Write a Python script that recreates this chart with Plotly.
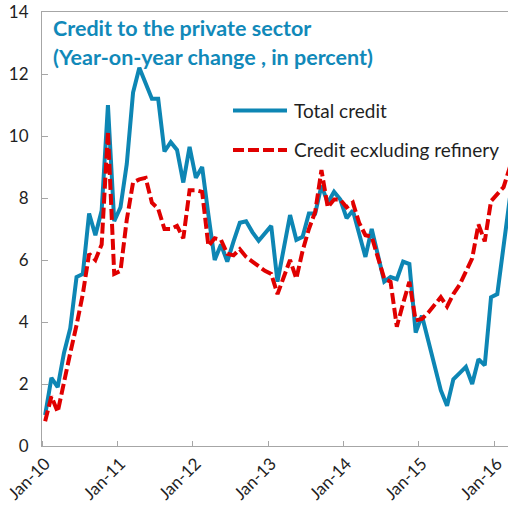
import pandas as pd
import plotly.graph_objects as go

# ---- data (monthly, Jan-2010 .. Mar-2016) ----
months = pd.date_range("2010-01-01", "2016-03-01", freq="MS").strftime("%b-%y").tolist()

total_credit = [
    1.0, 2.2, 1.9, 3.0, 3.8, 5.45, 5.55, 7.5, 6.8, 7.6, 11.0, 7.25,      # 2010
    7.7, 9.1, 11.4, 12.2, 11.7, 11.2, 11.2, 9.5, 9.8, 9.55, 8.5, 9.65,   # 2011
    8.65, 9.0, 7.45, 6.0, 6.5, 5.95, 6.6, 7.2, 7.25, 6.9, 6.62, 6.85,    # 2012
    7.1, 5.3, 6.4, 7.45, 6.65, 6.75, 7.5, 7.5, 8.4, 7.85, 8.2, 7.95,     # 2013
    7.35, 7.6, 6.85, 6.1, 7.0, 6.15, 5.3, 5.45, 5.38, 5.95, 5.87, 3.66,  # 2014
    4.2, 3.4, 2.6, 1.8, 1.3, 2.15, 2.35, 2.55, 2.0, 2.8, 2.6, 4.8,       # 2015
    4.9, 6.4, 8.0,                                                       # 2016
]

credit_ex_refinery = [
    0.8, 1.6, 1.1, 2.1, 3.0, 3.9, 4.9, 6.2, 6.0, 6.5, 10.15, 5.55,
    5.65, 7.3, 8.5, 8.6, 8.65, 7.85, 7.65, 7.0, 7.0, 7.1, 6.7, 8.25,
    8.25, 8.2, 6.45, 6.7, 6.65, 6.2, 6.15, 6.35, 6.1, 5.95, 5.78, 5.65,
    5.55, 4.9, 5.45, 6.0, 5.4, 6.3, 7.0, 7.55, 8.9, 7.7, 7.95, 7.95,
    7.7, 7.85, 7.2, 6.8, 6.75, 6.05, 5.4, 5.3, 3.85, 4.6, 5.3, 4.05,
    4.1, 4.3, 4.55, 4.8, 4.5, 4.9, 5.2, 5.65, 6.05, 7.15, 6.6, 7.9,
    8.15, 8.35, 9.0,
]

series_names = ["Total credit", "Credit ecxluding refinery"]
title_lines = ["Credit to the private sector", "(Year-on-year change , in percent)"]
y_ticks = [0, 2, 4, 6, 8, 10, 12, 14]

# ---- derived ----
idx = list(range(len(months)))
label_idx = [i for i, m in enumerate(months) if m.startswith("Jan")]
label_txt = [months[i] for i in label_idx]
boundaries = [i - 0.5 for i in label_idx]

BLUE = "#0D86B4"
RED = "#E00000"
AXIS = "#A6A6A6"
TXT = "#1F1F1F"
FONT = "Lato"
DASH = "11px,4px"

W, H = 508, 508
ML, MR, MT, MB = 42, 0, 12, 62
pw, ph = W - ML - MR, H - MT - MB
month_px = 6.28
x_left = -0.5
x_right = x_left + pw / month_px


def px_x(p):
    return (p - ML) / pw


def px_y(p):
    return (H - MB - p) / ph


fig = go.Figure()
fig.add_trace(go.Scatter(
    x=idx, y=total_credit, mode="lines", name=series_names[0],
    line=dict(color=BLUE, width=4), text=months,
    hovertemplate="%{text}: %{y}<extra></extra>", showlegend=False,
))
fig.add_trace(go.Scatter(
    x=idx, y=credit_ex_refinery, mode="lines", name=series_names[1],
    line=dict(color=RED, width=4, dash=DASH), text=months,
    hovertemplate="%{text}: %{y}<extra></extra>", showlegend=False,
))

# manual legend (long line samples like the original)
legend_rows = [(series_names[0], BLUE, "solid", 110.5), (series_names[1], RED, DASH, 150)]
for name, col, dash, ypx in legend_rows:
    fig.add_shape(type="line", xref="paper", yref="paper",
                  x0=px_x(233), x1=px_x(287), y0=px_y(ypx), y1=px_y(ypx),
                  line=dict(color=col, width=4, dash=dash))
    fig.add_annotation(text=name, xref="paper", yref="paper",
                       x=px_x(292), y=px_y(ypx), xanchor="left", yanchor="middle",
                       showarrow=False, font=dict(family=FONT, size=19, color=TXT))

for txt, ypx in zip(title_lines, [28, 57]):
    fig.add_annotation(text="<b>%s</b>" % txt, xref="paper", yref="paper",
                       x=px_x(51), y=px_y(ypx), xanchor="left", yanchor="middle",
                       showarrow=False, font=dict(family=FONT, size=21.5, color="#1189B9"))

fig.update_layout(
    width=W, height=H,
    margin=dict(l=ML, r=MR, t=MT, b=MB, pad=0, autoexpand=False),
    plot_bgcolor="white", paper_bgcolor="white",
    font=dict(family=FONT, size=16, color=TXT),
    showlegend=False,
)
fig.update_xaxes(
    range=[x_left, x_right], automargin=False,
    tickmode="array", tickvals=label_idx, ticktext=label_txt, tickangle=-45,
    ticks="", showgrid=False, zeroline=False,
    showline=True, linecolor=AXIS, linewidth=1, mirror=True,
    tickfont=dict(family=FONT, size=17, color=TXT),
    minor=dict(tickvals=boundaries, ticks="inside", ticklen=5, tickcolor=AXIS, showgrid=False),
)
fig.update_yaxes(
    range=[0, 14], automargin=False, tickmode="array", tickvals=y_ticks,
    ticks="inside", ticklen=6, tickcolor=AXIS, showgrid=False, zeroline=False,
    showline=True, linecolor=AXIS, linewidth=1,
    ticklabelstandoff=9,
    tickfont=dict(family=FONT, size=17, color=TXT),
)

fig.write_html(
    "out.html",
    config={"displayModeBar": False},
    post_script="document.body.style.margin='0';document.body.style.overflow='hidden';",
)
